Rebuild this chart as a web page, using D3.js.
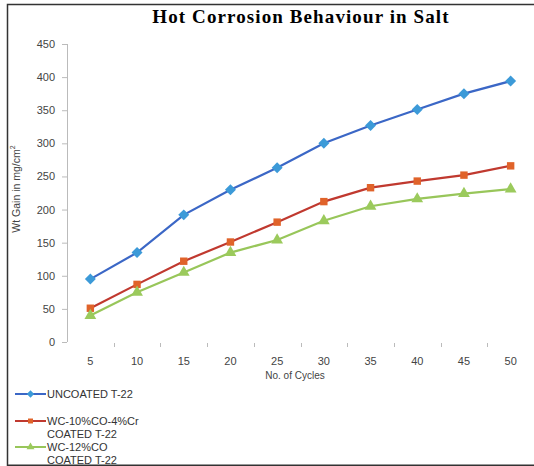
<!DOCTYPE html>
<html><head><meta charset="utf-8">
<script src="https://cdn.jsdelivr.net/npm/d3@7"></script>
<style>body{margin:0;background:#fff;}svg{display:block;}</style>
</head><body>
<script>
const cycles = [5,10,15,20,25,30,35,40,45,50];
const uncoated = [95,135,192,230,263,300,327,351,375,394];
const wcCoCr = [51,87,122,151,181,212,233,243,252,266];
const wcCo = [40,75,105,135,154,183,205,216,224,231];
const yTicks = [0,50,100,150,200,250,300,350,400,450];
const seriesNames = [["UNCOATED T-22"],["WC-10%CO-4%Cr","COATED T-22"],["WC-12%CO","COATED T-22"]];

const W=534,H=466;
const svg=d3.select("body").append("svg").attr("width",W).attr("height",H);
svg.append("rect").attr("width",W).attr("height",H).attr("fill","#fff");
svg.append("path").attr("d","M534,4.5H7.5V465.2H534").attr("fill","none").attr("stroke","#333").attr("stroke-width",1.5);

const x=d3.scaleBand().domain(cycles).range([67,534]);
const y=d3.scaleLinear().domain([0,450]).range([342,44]);

svg.append("text").attr("x",301).attr("y",23).attr("text-anchor","middle")
 .attr("font-family","Liberation Serif").attr("font-weight","bold").attr("font-size",19)
 .attr("letter-spacing",1.1).text("Hot Corrosion Behaviour in Salt");

const ya=svg.append("g").attr("transform","translate(67,0)").call(d3.axisLeft(y).tickValues(yTicks).tickSize(5).tickPadding(7));
ya.select(".domain").attr("stroke","#bbb").attr("d","M0.5,44V342");
ya.selectAll(".tick line").attr("stroke","#bbb");
ya.selectAll("text").attr("font-family","Liberation Sans").attr("font-size",11).attr("fill","#444");

const xa=svg.append("g").attr("transform","translate(0,342)").call(d3.axisBottom(x).tickSize(0).tickPadding(15));
xa.select(".domain").remove();
xa.selectAll("text").attr("font-family","Liberation Sans").attr("font-size",11).attr("fill","#444");
svg.append("g").selectAll("line").data(cycles).join("line")
 .attr("x1",d=>Math.round(x(d)+x.bandwidth())+0.5).attr("x2",d=>Math.round(x(d)+x.bandwidth())+0.5)
 .attr("y1",343).attr("y2",347).attr("stroke","#bbb");

svg.append("text").attr("x",295).attr("y",379).attr("text-anchor","middle")
 .attr("font-family","Liberation Sans").attr("font-size",10).attr("fill","#444").text("No. of Cycles");

const yl=svg.append("text").attr("transform","translate(20,189) rotate(-90)").attr("text-anchor","middle")
 .attr("font-family","Liberation Sans Narrow, Liberation Sans").attr("font-size",10.5).attr("fill","#444");
yl.append("tspan").text("Wt Gain in mg/cm");
yl.append("tspan").attr("font-size",7).attr("dy",-5).text("2");

const diamond={draw(ctx,size){const r=Math.sqrt(size/2);ctx.moveTo(0,-r);ctx.lineTo(r,0);ctx.lineTo(0,r);ctx.lineTo(-r,0);ctx.closePath();}};
const series=[
 {v:uncoated,line:"#3b67c6",mk:"#3c9ad8",shape:diamond,size:60},
 {v:wcCoCr,line:"#c0392f",mk:"#e0632a",shape:d3.symbolSquare,size:55},
 {v:wcCo,line:"#98c65a",mk:"#9bca5c",shape:d3.symbolTriangle,size:60}
];
const cx=d=>x(d)+x.bandwidth()/2;
const line=d3.line().x((d,i)=>cx(cycles[i])).y(d=>y(d));
series.forEach(s=>{
 svg.append("path").datum(s.v).attr("d",line).attr("fill","none").attr("stroke",s.line).attr("stroke-width",2.2);
 svg.append("g").selectAll("path").data(s.v).join("path")
  .attr("transform",(d,i)=>`translate(${cx(cycles[i])},${y(d)})`)
  .attr("d",d3.symbol(s.shape,s.size)).attr("fill",s.mk);
});

const legY=[394,421,447];
series.forEach((s,i)=>{
 const g=svg.append("g");
 g.append("line").attr("x1",15).attr("x2",46).attr("y1",legY[i]).attr("y2",legY[i]).attr("stroke",s.line).attr("stroke-width",2);
 g.append("path").attr("transform",`translate(30.5,${legY[i]})`).attr("d",d3.symbol(s.shape,s.size*0.45)).attr("fill",s.mk);
 seriesNames[i].forEach((t,j)=>{
  g.append("text").attr("x",47).attr("y",legY[i]+4+j*13).attr("font-family","Liberation Sans").attr("font-size",11).attr("fill","#333").text(t);
 });
});
</script>
</body></html>
